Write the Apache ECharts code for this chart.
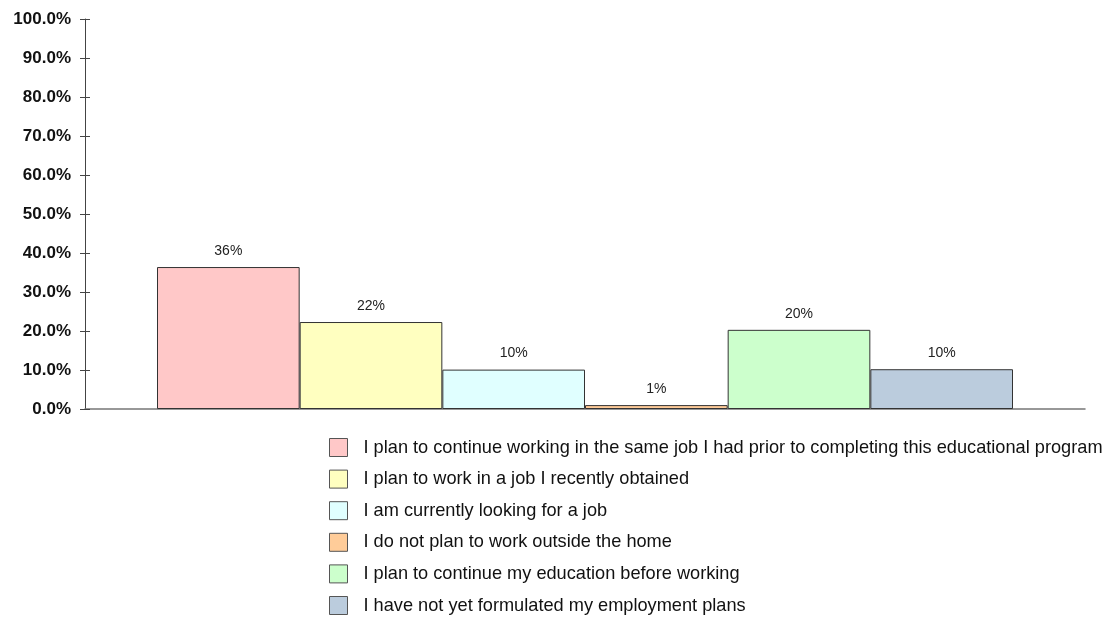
<!DOCTYPE html>
<html>
<head>
<meta charset="utf-8">
<script src="https://cdn.jsdelivr.net/npm/echarts@6/dist/echarts.min.js"></script>
<style>html,body{margin:0;padding:0;background:#fff;}#c{width:1108px;height:618px;}</style>
</head>
<body>
<div id="c"></div>
<script>
const seriesNames = [
  "I plan to continue working in the same job I had prior to completing this educational program",
  "I plan to work in a job I recently obtained",
  "I am currently looking for a job",
  "I do not plan to work outside the home",
  "I plan to continue my education before working",
  "I have not yet formulated my employment plans"
];
const seriesValues = [36.4, 22.3, 10.1, 1.0, 20.3, 10.2];
const seriesColors = ["#ffc8c8", "#ffffc0", "#e0ffff", "#ffcc99", "#ccffcc", "#bbccdd"];
const categories = [""];

const chart = echarts.init(document.getElementById('c'), null, {renderer: 'canvas'});
const font = "Liberation Sans, Arial, sans-serif";
const series = seriesNames.map((n, i) => ({
  name: n,
  type: 'bar',
  data: [seriesValues[i]],
  barGap: '0%',
  barCategoryGap: '14.4%',
  itemStyle: {color: seriesColors[i], borderColor: '#333', borderWidth: 1},
  label: {show: true, position: 'top', distance: 9, color: '#222', fontFamily: font, fontSize: 14,
    formatter: p => Math.round(p.value) + '%'},
  animation: false
}));
chart.setOption({
  animation: false,
  grid: {left: 85, right: 23, top: 19, bottom: 209, containLabel: false},
  legend: {
    orient: 'vertical', left: 329, top: 438, padding: 0, height: 240,
    itemWidth: 18, itemHeight: 18, itemGap: 12.6,
    icon: 'rect',
    textStyle: {fontFamily: font, fontSize: 18.2, color: '#111', padding: [0,0,0,11]},
    itemStyle: {borderColor: '#555', borderWidth: 1},
    data: seriesNames
  },
  xAxis: {
    type: 'category', data: categories,
    axisLine: {lineStyle: {color: '#777', width: 1.5}},
    axisTick: {show: false}, axisLabel: {show: false}
  },
  yAxis: [{
    type: 'value', min: 0, max: 100, interval: 10,
    axisLine: {show: true, lineStyle: {color: '#444', width: 1}},
    axisTick: {show: true, length: 5, lineStyle: {color: '#444'}},
    splitLine: {show: false},
    axisLabel: {margin: 14, fontFamily: font, fontSize: 17, fontWeight: 'bold', color: '#111',
      formatter: v => v.toFixed(1) + '%'}
  }, {
    type: 'value', min: 0, max: 100, interval: 10, position: 'left',
    axisLine: {show: false},
    axisTick: {show: true, inside: true, length: 5, lineStyle: {color: '#444'}},
    splitLine: {show: false}, axisLabel: {show: false}
  }],
  series: series
});
</script>
</body>
</html>
